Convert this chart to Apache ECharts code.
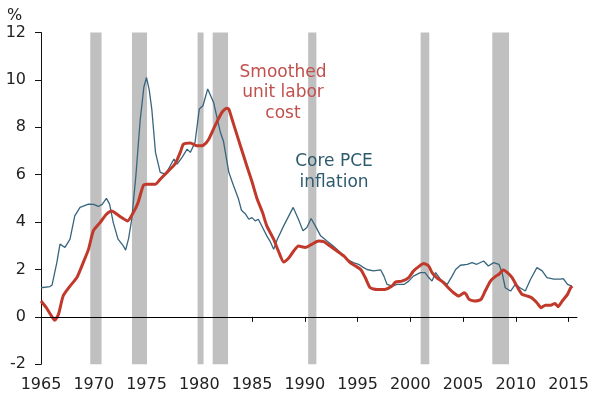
<!DOCTYPE html>
<html>
<head>
<meta charset="utf-8">
<script src="https://cdn.jsdelivr.net/npm/echarts@6/dist/echarts.min.js"></script>
<style>html,body{margin:0;padding:0;background:#fff}#c{width:600px;height:400px}</style>
</head>
<body>
<div id="c"></div>
<script>
// Core PCE inflation (year, %)
const pceYears = [1965.0,1965.85,1966.05,1966.5,1966.8,1967.27,1967.75,1968.2,1968.7,1969.5,1970.0,1970.43,1970.8,1971.2,1971.5,1971.85,1972.3,1972.8,1973.02,1973.3,1973.6,1974.0,1974.4,1974.75,1975.0,1975.25,1975.5,1975.85,1976.3,1976.8,1977.25,1977.6,1977.9,1978.37,1978.85,1979.15,1979.6,1980.0,1980.35,1980.8,1981.35,1982.0,1982.3,1982.8,1983.25,1983.7,1984.0,1984.4,1984.7,1985.0,1985.3,1985.6,1986.0,1986.4,1986.7,1987.05,1987.4,1988.0,1988.9,1989.4,1989.83,1990.2,1990.6,1991.0,1991.5,1992.1,1992.7,1993.4,1994.0,1994.6,1995.1,1995.5,1995.9,1996.5,1997.2,1997.5,1997.8,1998.3,1998.75,1999.4,1999.85,2000.3,2000.95,2001.4,2001.75,2002.06,2002.4,2002.85,2003.5,2003.96,2004.3,2004.75,2005.4,2005.85,2006.3,2006.95,2007.4,2007.9,2008.4,2008.7,2009.0,2009.5,2009.96,2010.4,2010.9,2011.4,2012.0,2012.5,2012.95,2013.6,2014.25,2014.5,2014.9,2015.3];
const pceValues = [1.23,1.28,1.35,2.29,3.07,2.93,3.28,4.26,4.62,4.76,4.75,4.66,4.75,5.0,4.76,3.98,3.28,3.0,2.82,3.3,4.12,6.0,8.3,9.7,10.1,9.6,8.77,6.94,6.1,6.02,6.38,6.66,6.45,6.73,7.08,6.94,7.37,8.77,8.91,9.62,9.06,7.79,7.4,6.1,5.53,5.0,4.5,4.33,4.12,4.19,4.05,4.12,3.77,3.42,3.2,2.85,3.28,3.84,4.62,4.12,3.63,3.77,4.15,3.84,3.42,3.2,2.99,2.71,2.43,2.29,2.22,2.1,2.0,1.94,1.98,1.72,1.37,1.3,1.37,1.37,1.51,1.72,1.87,1.87,1.66,1.51,1.87,1.59,1.37,1.72,2.0,2.18,2.22,2.29,2.22,2.36,2.15,2.29,2.22,1.87,1.23,1.09,1.37,1.23,1.09,1.59,2.08,1.94,1.66,1.59,1.59,1.62,1.37,1.3];

// Smoothed unit labor cost (year, %)
const ulcYears = [1965.0,1965.5,1966.0,1966.3,1966.65,1967.1,1967.75,1968.4,1969.0,1969.5,1969.96,1970.6,1971.2,1971.7,1972.2,1972.64,1973.2,1973.75,1974.2,1974.7,1975.05,1975.85,1976.3,1976.94,1977.7,1978.2,1978.5,1979.15,1979.8,1980.4,1980.9,1981.5,1982.15,1982.6,1982.8,1983.1,1983.7,1984.2,1984.5,1985.0,1985.47,1986.0,1986.4,1987.05,1987.5,1988.0,1988.5,1988.95,1989.4,1990.05,1990.7,1991.3,1991.8,1992.4,1993.05,1993.7,1994.3,1994.8,1995.3,1995.74,1996.2,1996.85,1997.6,1998.27,1998.6,1999.2,1999.85,2000.3,2000.8,2001.26,2001.74,2002.06,2002.5,2003.15,2003.6,2004.1,2004.6,2005.1,2005.3,2005.57,2006.2,2006.7,2007.1,2007.6,2008.1,2008.4,2008.8,2009.2,2009.65,2010.1,2010.6,2011.1,2011.5,2012.0,2012.4,2012.8,2013.3,2013.7,2014.0,2014.4,2014.9,2015.2,2015.35];
const ulcValues = [0.67,0.39,0.03,-0.14,0.1,0.88,1.3,1.66,2.29,2.85,3.63,3.98,4.33,4.47,4.33,4.19,4.05,4.4,4.83,5.55,5.6,5.6,5.81,6.1,6.45,6.94,7.29,7.34,7.22,7.25,7.5,8.07,8.63,8.8,8.77,8.35,7.5,6.8,6.38,5.7,5.0,4.4,3.84,3.28,2.78,2.32,2.5,2.78,2.99,2.93,3.07,3.2,3.18,2.99,2.78,2.57,2.29,2.15,2.0,1.65,1.23,1.16,1.16,1.3,1.47,1.51,1.66,1.94,2.12,2.25,2.15,1.87,1.66,1.45,1.23,1.02,0.88,1.02,0.95,0.74,0.67,0.74,1.09,1.51,1.72,1.8,1.98,1.87,1.66,1.3,0.95,0.88,0.81,0.6,0.39,0.49,0.49,0.57,0.43,0.67,0.95,1.23,1.3];

// Recessions (start, end)
const recessionStarts = [1969.67,1973.62,1979.84,1981.27,1990.32,2000.98,2007.77];
const recessionEnds   = [1970.74,1975.05,1980.41,1982.73,1991.1,2001.8,2009.36];

// Axis ticks
const xTicks = [1965,1970,1975,1980,1985,1990,1995,2000,2005,2010,2015];
const yMin = -2, yMax = 12, yStep = 2;

const zip = (a, b) => a.map((v, i) => [v, b[i]]);
const FONT = '"DejaVu Sans", Verdana, sans-serif';

const chart = echarts.init(document.getElementById('c'), null, {renderer: 'canvas'});
chart.setOption({
  animation: false,
  backgroundColor: '#ffffff',
  grid: {left: 41, right: 23, top: 32.5, bottom: 35.7, containLabel: false},
  xAxis: {
    type: 'value', min: 1965, max: 2015.8,
    splitLine: {show: false},
    axisLine: {lineStyle: {color: '#111', width: 1}},
    axisTick: {show: true, length: 5, customValues: xTicks, lineStyle: {color: '#111'}},
    axisLabel: {customValues: xTicks, margin: 13, color: '#222', fontSize: 16, fontFamily: FONT, formatter: v => String(v)}
  },
  yAxis: {
    type: 'value', min: yMin, max: yMax, interval: yStep,
    splitLine: {show: false},
    axisLine: {show: true, lineStyle: {color: '#111', width: 1}},
    axisTick: {show: true, length: 6, lineStyle: {color: '#111'}},
    axisLabel: {margin: 15, color: '#222', fontSize: 16, fontFamily: FONT}
  },
  series: [
    {
      type: 'line', name: 'bands', data: [], silent: true,
      markArea: {
        silent: true,
        itemStyle: {color: '#c0c0c0'},
        data: recessionStarts.map((s, i) => [{xAxis: s}, {xAxis: recessionEnds[i]}])
      },
      markLine: {
        silent: true, symbol: 'none', label: {show: false},
        lineStyle: {color: '#000', width: 1, type: 'solid'},
        data: [{yAxis: 0}]
      }
    },
    {
      type: 'line', name: 'Core PCE inflation', data: zip(pceYears, pceValues),
      showSymbol: false, smooth: false,
      lineStyle: {color: '#36657d', width: 1.3}
    },
    {
      type: 'line', name: 'Smoothed unit labor cost', data: zip(ulcYears, ulcValues),
      showSymbol: false, smooth: 0.2,
      lineStyle: {color: '#c0392b', width: 3}
    }
  ],
  graphic: [
    {type: 'text', z: 100, left: 7, top: 8, style: {text: '%', fontSize: 16, fontFamily: FONT, fill: '#222'}},
    {type: 'text', z: 100, x: 283, y: 62, style: {text: 'Smoothed\nunit labor\ncost', align: 'center', fontSize: 17, lineHeight: 20.5, fontFamily: FONT, fill: '#c0504d'}},
    {type: 'text', z: 100, x: 334, y: 151, style: {text: 'Core PCE\ninflation', align: 'center', fontSize: 17, lineHeight: 21, fontFamily: FONT, fill: '#2e5a6e'}}
  ]
});
</script>
</body>
</html>
